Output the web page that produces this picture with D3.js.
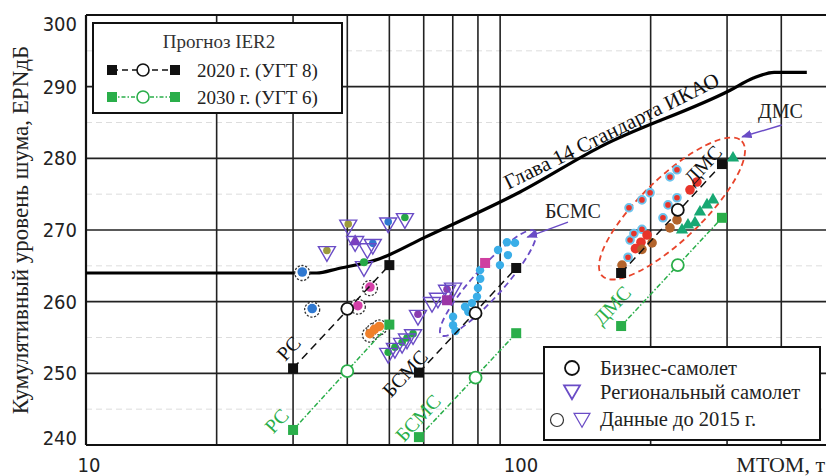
<!DOCTYPE html>
<html lang="ru">
<head>
<meta charset="utf-8">
<script src="https://d3js.org/d3.v7.min.js"></script>
<style>
  body { margin: 0; background: #fff; }
  svg { display: block; }
  .serif { font-family: "Liberation Serif", "DejaVu Serif", serif; fill: #222; }
  .tick-lbl { font-family: "DejaVu Sans Condensed", "DejaVu Sans", sans-serif; font-stretch: condensed; font-size: 20px; fill: #222; }
</style>
</head>
<body>
<svg id="chart" width="826" height="476"></svg>
<script>
// ---------- data ----------
// IER2 projections: low / mid / high MTOM for each class (t) and noise (EPNdB)
const classes   = ["РС", "БСМС", "ДМС"];
const mtomLow   = [30, 58.5, 171];
const mtomMid   = [40, 79, 231];
const mtomHigh  = [50, 98, 292];
const noise2020 = [[250.7, 259.0, 265.1], [250.1, 258.4, 264.7], [264.0, 272.8, 279.2]];
const noise2030 = [[242.1, 250.3, 256.8], [241.1, 249.4, 255.6], [256.6, 265.1, 271.7]];

// ICAO Chapter 14 cumulative limit
const icaoMtom  = [10, 34, 38, 47.5, 60, 100, 153, 305, 345, 385, 458];
const icaoLimit = [264, 264, 264.6, 266, 268.9, 275.3, 281.6, 289.5, 291.2, 292, 292];

// business jets, data before 2015: [MTOM, dB, colour group]
const bizOld = [
  [31.5, 264.0, "blue"], [33.2, 258.9, "blue"],
  [45.1, 261.9, "pink"], [42.3, 259.3, "pink"],
  [45.1, 255.4, "orange"], [46.2, 256.0, "orange"], [47.4, 256.4, "orange"]
];
// regional aircraft, data before 2015: [MTOM, dB, colour group]
const regOld = [
  [35.9, 267.0, "olive"], [40.2, 270.7, "olive"], [41.7, 268.4, "purpleTri"],
  [44.5, 267.4, "none"], [45.8, 268.0, "blue"], [49.7, 271.0, "blue"],
  [54.3, 271.6, "green"], [43.7, 264.9, "none"],
  [49.7, 252.8, "green"], [51.5, 253.5, "green"], [53.5, 254.2, "green"],
  [54.9, 254.8, "green"], [56.7, 255.4, "green"],
  [58.2, 258.1, "purple"], [62.7, 259.9, "none"], [64.7, 260.5, "none"],
  [67.9, 261.6, "purple"], [70.1, 261.9, "none"]
];
const greenInLine = [[43.7, 265.5]];
const squaresPink = [[83.1, 265.4], [67.9, 260.2]];
const bsmcDots = [
  [70.1, 257.9], [70.1, 256.7], [71.0, 255.9], [74.7, 259.3], [76.0, 258.6], [77.5, 259.8],
  [79.6, 260.7], [80.0, 261.9], [81.0, 263.2], [80.9, 264.4], [89.0, 267.2], [93.3, 268.3],
  [93.8, 266.5], [89.9, 265.1], [97.4, 268.2]
];
const dmsRinged = [
  [178.3, 273.1], [191.0, 274.2], [199.4, 275.2], [221.6, 277.4], [230.0, 278.4],
  [219.3, 273.5], [230.0, 274.5], [213.5, 271.7], [191.0, 270.1], [179.3, 268.6],
  [177.4, 266.2], [183.0, 269.5]
];
const dmsRed   = [[246.4, 275.6], [255.7, 276.7], [196.2, 269.3], [190.0, 268.3], [184.5, 267.4]];
const dmsBrown = [[171.8, 265.1], [191.0, 267.3], [201.5, 268.2], [221.6, 270.3], [230.0, 271.4]];
const dmsTri   = [[236.2, 270.0], [243.8, 270.7], [253.0, 271.0], [259.8, 272.5], [269.7, 273.5],
                  [278.4, 274.2], [309.6, 280.05]];

const yTicks = [240, 250, 260, 270, 280, 290, 300];
const xTicks = [10, 100];
const xGrid  = [20, 30, 40, 50, 60, 70, 80, 90, 200, 300, 400];

// ---------- layout ----------
const svg = d3.select("#chart");
const x = d3.scaleLog().domain([10, 1000]).range([86, 954]);
const y = d3.scaleLinear().domain([240, 300]).range([445, 15]);
const W = 826;

const palette = {
  blue: "#2f78d0", pink: "#d43fa8", orange: "#f0802a", olive: "#9c9a3c",
  purple: "#8a3cb0", purpleTri: "#7a3fbf", green: "#25a845"
};
const BLACK = "#111", GREEN = "#2aae4a", PURPLE = "#6a4cc6", RED = "#e8452c";

// minor grid
svg.append("g").selectAll("line")
  .data(d3.range(245, 300, 10))
  .join("line")
  .attr("x1", 86).attr("x2", W)
  .attr("y1", d => y(d)).attr("y2", d => y(d))
  .attr("stroke", "#ddd").attr("stroke-dasharray", "6,4").attr("stroke-width", 1);

// major grid
const grid = svg.append("g").attr("stroke", "#222").attr("stroke-width", 1.6);
grid.selectAll(".gy").data(yTicks).join("line")
  .attr("x1", 86).attr("x2", W).attr("y1", d => y(d)).attr("y2", d => y(d));
grid.selectAll(".gx").data(xGrid).join("line")
  .attr("x1", d => x(d)).attr("x2", d => x(d)).attr("y1", y(300)).attr("y2", y(240));
svg.append("line").attr("x1", 86).attr("x2", 86).attr("y1", y(300)).attr("y2", y(240))
  .attr("stroke", "#111").attr("stroke-width", 2.2);
svg.append("line").attr("x1", 86).attr("x2", W).attr("y1", y(240)).attr("y2", y(240))
  .attr("stroke", "#111").attr("stroke-width", 2.2);
svg.append("line").attr("x1", 86).attr("x2", W).attr("y1", y(300)).attr("y2", y(300))
  .attr("stroke", "#111").attr("stroke-width", 2);

// tick labels
svg.append("g").selectAll("text").data(yTicks).join("text")
  .attr("class", "tick-lbl")
  .attr("x", 77)
  .attr("y", d => y(d) + (d === 300 ? 9 : d === 240 ? -7 : 0))
  .attr("dy", "0.35em")
  .attr("text-anchor", "end")
  .text(d => d);
svg.append("g").selectAll("text").data(xTicks).join("text")
  .attr("class", "tick-lbl")
  .attr("x", d => x(d) + (d === 10 ? 3 : 1))
  .attr("y", 472)
  .attr("text-anchor", "middle")
  .text(d => d);
svg.append("text").attr("class", "serif")
  .attr("x", 825).attr("y", 472).attr("text-anchor", "end")
  .style("font-size", "22px").text("MTOM, т");
svg.append("text").attr("class", "serif")
  .attr("transform", "translate(28,230) rotate(-90)")
  .attr("text-anchor", "middle")
  .style("font-size", "23px")
  .text("Кумулятивный уровень шума, EPNдБ");

// ICAO chapter 14 line
const icao = icaoMtom.map((m, i) => [m, icaoLimit[i]]);
svg.append("path")
  .attr("d", d3.line().x(d => x(d[0])).y(d => y(d[1])).curve(d3.curveMonotoneX)(icao))
  .attr("fill", "none").attr("stroke", "#000").attr("stroke-width", 3.2);
svg.append("text").attr("class", "serif")
  .attr("transform", `translate(${x(93.9)},${y(275.6)}) rotate(-26.3)`)
  .style("font-size", "21px").style("fill", "#111")
  .text("Глава 14 Стандарта ИКАО");

// class ellipses
function ellipse(cm, cdb, rx, ry, ang, color) {
  svg.append("ellipse")
    .attr("transform", `translate(${x(cm)},${y(cdb)}) rotate(${ang})`)
    .attr("rx", rx).attr("ry", ry)
    .attr("fill", "none").attr("stroke", color)
    .attr("stroke-width", 1.8).attr("stroke-dasharray", "6,4");
}
ellipse(84.4, 262.6, 70, 15, -48, PURPLE);
ellipse(224, 273.0, 97, 31, -44, RED);

// arrows from the class names to the ellipses
svg.append("defs").append("marker")
  .attr("id", "arr").attr("viewBox", "0 0 10 10").attr("refX", 9).attr("refY", 5)
  .attr("markerWidth", 7).attr("markerHeight", 7).attr("orient", "auto")
  .append("path").attr("d", "M0,1 L10,5 L0,9 z").attr("fill", PURPLE);
[[[129, 271.1], [104, 269.0]], [[401, 284.65], [325, 283.0]]].forEach(a => {
  svg.append("line")
    .attr("x1", x(a[0][0])).attr("y1", y(a[0][1]))
    .attr("x2", x(a[1][0])).attr("y2", y(a[1][1]))
    .attr("stroke", PURPLE).attr("stroke-width", 1.5).attr("marker-end", "url(#arr)");
});

// scatter: data before 2015 - business jets (dashed circles)
const gBiz = svg.append("g");
gBiz.selectAll("circle.o").data(bizOld).join("circle")
  .attr("cx", d => x(d[0])).attr("cy", d => y(d[1])).attr("r", 7.5)
  .attr("fill", "#fff").attr("stroke", "#333").attr("stroke-width", 1.3)
  .attr("stroke-dasharray", "2.2,1.6");
gBiz.selectAll("circle.i").data(bizOld).join("circle")
  .attr("cx", d => x(d[0])).attr("cy", d => y(d[1]) - 1).attr("r", 4.8)
  .attr("fill", d => palette[d[2]]);

// regional aircraft (purple down triangles)
const tri = d3.symbol().type(d3.symbolTriangle);
const gReg = svg.append("g");
gReg.selectAll("circle").data(regOld.filter(d => d[2] !== "none" && d[2] !== "purpleTri")).join("circle")
  .attr("cx", d => x(d[0])).attr("cy", d => y(d[1]) - 1).attr("r", 3.8)
  .attr("fill", d => palette[d[2]]);
gReg.selectAll("path.up").data(regOld.filter(d => d[2] === "purpleTri")).join("path")
  .attr("transform", d => `translate(${x(d[0])},${y(d[1])})`)
  .attr("d", tri.size(70)()).attr("fill", palette.purpleTri);
gReg.selectAll("path.dn").data(regOld).join("path")
  .attr("transform", d => `translate(${x(d[0])},${y(d[1])}) rotate(180)`)
  .attr("d", tri.size(125)())
  .attr("fill", "none").attr("stroke", PURPLE).attr("stroke-width", 1.4);
svg.selectAll("circle.gl").data(greenInLine).join("circle")
  .attr("cx", d => x(d[0])).attr("cy", d => y(d[1])).attr("r", 4).attr("fill", palette.green);

// newer data points
svg.append("g").selectAll("circle").data(bsmcDots).join("circle")
  .attr("cx", d => x(d[0])).attr("cy", d => y(d[1])).attr("r", 4.2).attr("fill", "#3aaee8");
svg.append("g").selectAll("rect").data(squaresPink).join("rect")
  .attr("x", d => x(d[0]) - 5).attr("y", d => y(d[1]) - 5).attr("width", 10).attr("height", 10)
  .attr("fill", (d, i) => i === 0 ? "#cf3fa0" : "#9b35a5");
svg.append("g").selectAll("circle").data(dmsRinged).join("circle")
  .attr("cx", d => x(d[0])).attr("cy", d => y(d[1])).attr("r", 3.8)
  .attr("fill", "#e8342a").attr("stroke", "#6cc4ee").attr("stroke-width", 2);
svg.append("g").selectAll("circle").data(dmsRed).join("circle")
  .attr("cx", d => x(d[0])).attr("cy", d => y(d[1])).attr("r", 4.8).attr("fill", "#e8342a");
svg.append("g").selectAll("circle").data(dmsBrown).join("circle")
  .attr("cx", d => x(d[0])).attr("cy", d => y(d[1])).attr("r", 4.8).attr("fill", "#b2642c");
svg.append("g").selectAll("path").data(dmsTri).join("path")
  .attr("transform", d => `translate(${x(d[0])},${y(d[1])})`)
  .attr("d", tri.size(65)()).attr("fill", "#18a873");

// IER2 projection lines
function projection(noise, color, dash) {
  const g = svg.append("g");
  classes.forEach((c, i) => {
    const pts = [[mtomLow[i], noise[i][0]], [mtomMid[i], noise[i][1]], [mtomHigh[i], noise[i][2]]];
    g.append("path")
      .attr("d", d3.line().x(d => x(d[0])).y(d => y(d[1]))([pts[0], pts[2]]))
      .attr("stroke", color).attr("stroke-width", 1.5).attr("stroke-dasharray", dash).attr("fill", "none");
    g.selectAll(null).data([pts[0], pts[2]]).join("rect")
      .attr("x", d => x(d[0]) - 5).attr("y", d => y(d[1]) - 5)
      .attr("width", 10).attr("height", 10).attr("fill", color);
    g.append("circle").attr("cx", x(pts[1][0])).attr("cy", y(pts[1][1])).attr("r", 6)
      .attr("fill", "#fff").attr("stroke", color).attr("stroke-width", 1.8);
  });
}
projection(noise2020, BLACK, "8,5");
projection(noise2030, GREEN, "5,2,1.5,2");

// class labels on the lines
const classLabels = [
  ["РС", 29.3, 253.5, BLACK], ["РС", 27.5, 243.4, GREEN],
  ["БСМС", 54.3, 250.0, BLACK], ["БСМС", 58.2, 243.8, GREEN],
  ["ДМС", 264, 279.1, BLACK], ["ДМС", 162.9, 259.5, GREEN]
];
svg.append("g").selectAll("text").data(classLabels).join("text")
  .attr("class", "serif")
  .attr("transform", d => `translate(${x(d[1])},${y(d[2])}) rotate(-47)`)
  .attr("text-anchor", "middle").attr("dy", "0.35em")
  .style("font-size", "20px").style("fill", d => d[3])
  .text(d => d[0]);
svg.append("text").attr("class", "serif").attr("x", 545).attr("y", 218)
  .style("font-size", "20px").text("БСМС");
svg.append("text").attr("class", "serif").attr("x", 758).attr("y", 118)
  .style("font-size", "20px").text("ДМС");

// legend: IER2 forecast
const lg = svg.append("g");
lg.append("rect").attr("x", 93).attr("y", 23).attr("width", 249).attr("height", 90)
  .attr("fill", "#fff").attr("stroke", "#111").attr("stroke-width", 2);
lg.append("text").attr("class", "serif").attr("x", 219).attr("y", 48)
  .attr("text-anchor", "middle").style("font-size", "19px").style("fill", "#333").text("Прогноз IER2");
[["2020 г. (УГТ 8)", BLACK, "6,4", 70], ["2030 г. (УГТ 6)", GREEN, "4,2,1.5,2", 97]].forEach(r => {
  const cy = r[3];
  lg.append("line").attr("x1", 112).attr("x2", 175).attr("y1", cy).attr("y2", cy)
    .attr("stroke", r[1]).attr("stroke-width", 1.5).attr("stroke-dasharray", r[2]);
  [112, 175].forEach(cx => lg.append("rect").attr("x", cx - 5).attr("y", cy - 5)
    .attr("width", 10).attr("height", 10).attr("fill", r[1]));
  lg.append("circle").attr("cx", 143).attr("cy", cy).attr("r", 6)
    .attr("fill", "#fff").attr("stroke", r[1]).attr("stroke-width", 1.6);
  lg.append("text").attr("class", "serif").attr("x", 197).attr("y", cy + 7)
    .style("font-size", "19px").text(r[0]);
});

// legend: aircraft types
const lg2 = svg.append("g");
lg2.append("rect").attr("x", 544).attr("y", 347).attr("width", 276).attr("height", 93)
  .attr("fill", "#fff").attr("stroke", "#111").attr("stroke-width", 2);
lg2.append("circle").attr("cx", 572).attr("cy", 368).attr("r", 7)
  .attr("fill", "none").attr("stroke", "#111").attr("stroke-width", 1.8);
lg2.append("path").attr("transform", "translate(572,390) rotate(180)")
  .attr("d", tri.size(110)()).attr("fill", "none").attr("stroke", PURPLE).attr("stroke-width", 1.8);
lg2.append("circle").attr("cx", 557).attr("cy", 420).attr("r", 6.5)
  .attr("fill", "none").attr("stroke", "#333").attr("stroke-width", 1.2);
lg2.append("path").attr("transform", "translate(582,418) rotate(180)")
  .attr("d", tri.size(110)()).attr("fill", "none").attr("stroke", PURPLE).attr("stroke-width", 1.2);
[["Бизнес-самолет", 375], ["Региональный самолет", 399], ["Данные до 2015 г.", 426]].forEach(r => {
  lg2.append("text").attr("class", "serif").attr("x", 600).attr("y", r[1])
    .style("font-size", "20.5px").text(r[0]);
});
</script>
</body>
</html>
